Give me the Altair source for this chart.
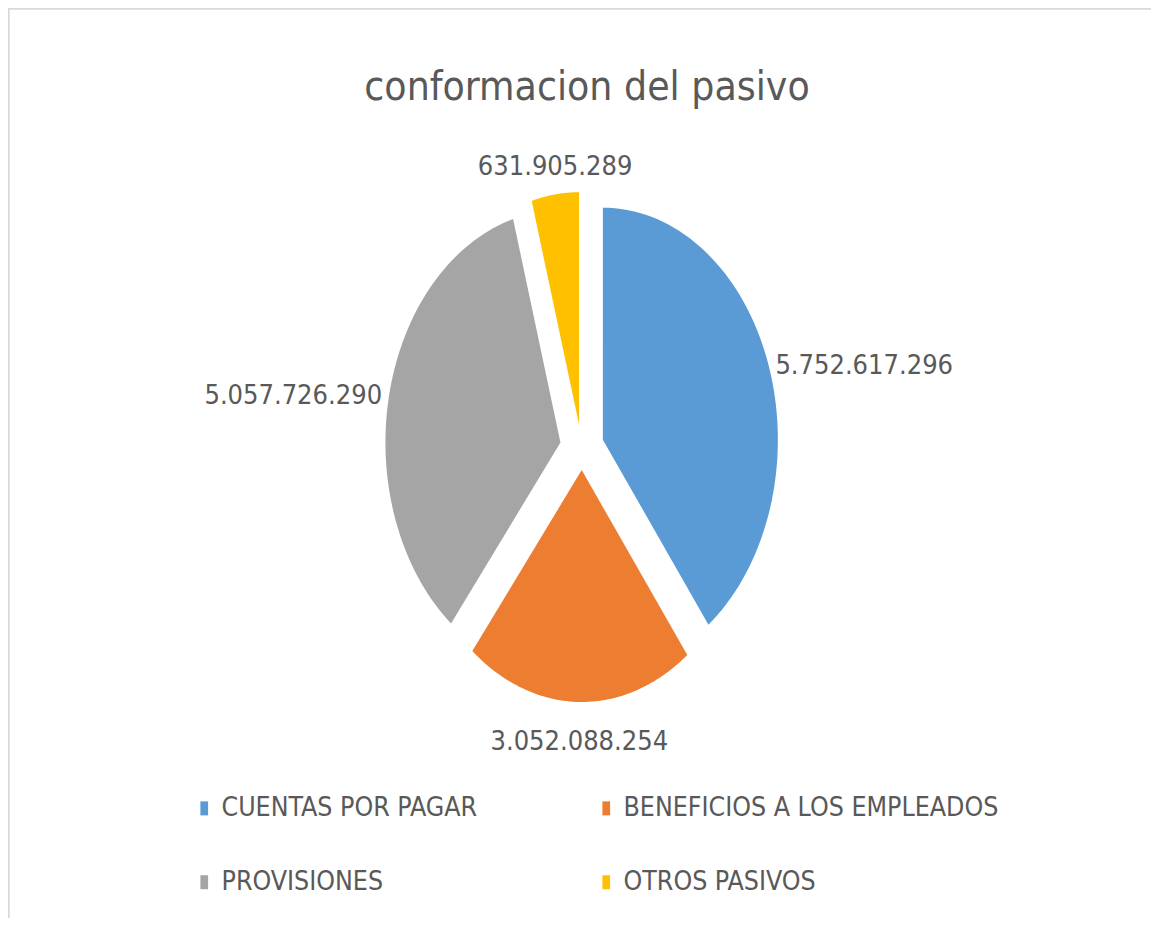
import altair as alt
import pandas as pd

# ---- data ----
categories = ["CUENTAS POR PAGAR", "BENEFICIOS A LOS EMPLEADOS", "PROVISIONES", "OTROS PASIVOS"]
values = [5752617296, 3052088254, 5057726290, 631905289]
labels = ["5.752.617.296", "3.052.088.254", "5.057.726.290", "631.905.289"]
colors = ["#5B9BD5", "#ED7D31", "#A5A5A5", "#FFC000"]
title_text = "conformacion del pasivo"

df = pd.DataFrame({"cat": categories, "value": values, "label": labels, "idx": list(range(len(categories)))})

# ---- layout constants (pixels inside the plot area) ----
W, H = 1143, 910
CX, CY = 574, 439          # pie centre
RX, RY = 175, 232          # ellipse radii
EX, EY = 22, 23            # explosion offsets
GX, GY = 7, 34             # label gaps
N = 72                     # rim points per slice
FONT = "Liberation Sans Narrow, DejaVu Sans Condensed, Arial Narrow, sans-serif"
TXT = "#595959"

xs = alt.Scale(domain=[0, W], range=[0, W], nice=False, zero=False)
ys = alt.Scale(domain=[0, H], range=[0, H], nice=False, zero=False)

base = (
    alt.Chart(df)
    .transform_window(cum="sum(value)", sort=[alt.SortField("idx")])
    .transform_joinaggregate(total="sum(value)")
    .transform_calculate(
        a0="2*PI*(datum.cum - datum.value)/datum.total",
        a1="2*PI*datum.cum/datum.total",
    )
    .transform_calculate(mid="(datum.a0 + datum.a1)/2")
    .transform_calculate(
        ox=f"{CX} + {EX}*sin(datum.mid)",
        oy=f"{CY} - {EY}*cos(datum.mid)",
    )
)

slices = (
    base.transform_calculate(pts=f"sequence(0, {N + 3})")
    .transform_flatten(["pts"], as_=["k"])
    .transform_calculate(
        ang=f"datum.a0 + (datum.a1 - datum.a0)*(datum.k - 1)/{N}",
        rim=f"(datum.k >= 1 && datum.k <= {N + 1}) ? 1 : 0",
    )
    .transform_calculate(
        px=f"datum.ox + datum.rim*{RX}*sin(datum.ang)",
        py=f"datum.oy - datum.rim*{RY}*cos(datum.ang)",
    )
    .mark_line(strokeWidth=0, strokeOpacity=0, fillOpacity=1)
    .encode(
        x=alt.X("px:Q", scale=xs, axis=None),
        y=alt.Y("py:Q", scale=ys, axis=None),
        fill=alt.Fill(
            "cat:N",
            sort=categories,
            scale=alt.Scale(domain=categories, range=colors),
            legend=alt.Legend(
                title=None,
                orient="none",
                legendX=183,
                legendY=787,
                direction="horizontal",
                columns=2,
                columnPadding=115,
                rowPadding=47,
                symbolType="M-0.55,-1L0.55,-1L0.55,1L-0.55,1Z",
                symbolSize=196,
                symbolStrokeWidth=0,
                labelOffset=4,
                labelFont=FONT,
                labelFontSize=26.5,
                labelColor=TXT,
                labelLimit=800,
                padding=0,
            ),
        ),
        detail="cat:N",
        order=alt.Order("k:Q"),
    )
)

lab = base.transform_calculate(
    s="sin(datum.mid)", c="cos(datum.mid)"
).transform_calculate(
    side="datum.s > 0.5 ? 'L' : (datum.s < -0.5 ? 'R' : 'C')",
    lx=f"datum.ox + ({RX} + (abs(datum.s) > 0.5 ? {GX} : 0))*datum.s",
    ly=f"datum.oy - ({RY} + (abs(datum.s) > 0.5 ? 0 : {GY}))*datum.c",
)

def label_layer(side, align, dy=0):
    return lab.transform_filter(f"datum.side == '{side}'").mark_text(
        align=align, baseline="middle", font=FONT, fontSize=27, color=TXT, dy=dy
    ).encode(
        x=alt.X("lx:Q", scale=xs, axis=None),
        y=alt.Y("ly:Q", scale=ys, axis=None),
        text="label:N",
    )

labels_L = label_layer("L", "left")
labels_R = label_layer("R", "right")
labels_C = label_layer("C", "center", dy=6)

one = pd.DataFrame({"t": [title_text]})
title = alt.Chart(one).mark_text(
    align="center", baseline="alphabetic", font=FONT, fontSize=40.5, color=TXT
).encode(x=alt.value(579), y=alt.value(92), text="t:N")

border_top = alt.Chart(one).mark_rule(color="#d9d9d9", strokeWidth=3.5).encode(
    x=alt.value(0), x2=alt.value(W), y=alt.value(0)
)
border_left = alt.Chart(one).mark_rule(color="#d9d9d9", strokeWidth=3.5).encode(
    x=alt.value(0), y=alt.value(0), y2=alt.value(H)
)

chart = (
    alt.layer(border_top, border_left, slices, labels_L, labels_R, labels_C, title)
    .properties(width=W, height=H, padding=0, autosize=alt.AutoSizeParams(type="none"), background="white")
    .configure_view(stroke=None)
)

chart.save("out.html", embed_options={"renderer": "svg", "actions": False})
